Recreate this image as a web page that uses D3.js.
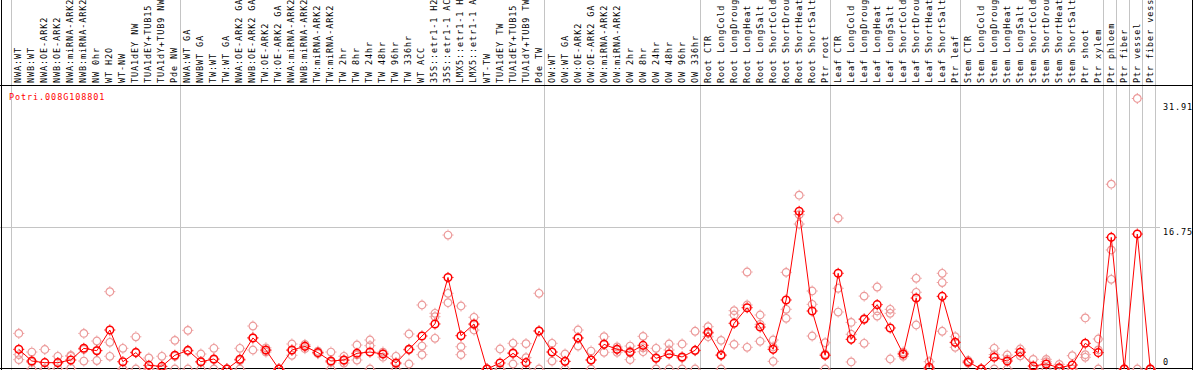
<!DOCTYPE html>
<html>
<head>
<meta charset="utf-8">
<script src="https://cdn.jsdelivr.net/npm/d3@7"></script>
<style>
  body { margin: 0; background: #fff; }
  svg { display: block; }
  text { font-family: "DejaVu Sans Mono", monospace; font-size: 8.5px; letter-spacing: 0.9px; }
</style>
</head>
<body>
<div id="chart"></div>
<script>
const geneName = 'Potri.008G108801';

// sizes of the sample groups, left to right
const groupSizes = [13, 28, 12, 10, 10, 11, 1, 1, 1, 1];

const sampleLabels = [
  'NWA:WT', 'NWB:WT', 'NWA:OE-ARK2', 'NWB:OE-ARK2', 'NWA:miRNA-ARK2', 'NWB:miRNA-ARK2', 'NW 0hr', 'WT H2O', 'WT-NW',
  'TUA1dEY NW', 'TUA1dEY+TUB15 NW', 'TUA1dY+TUB9 NW', 'Pde NW',
  'NWA:WT GA', 'NWBWT GA', 'TW:WT', 'TW:WT GA', 'NWA:OE-ARK2 GA', 'NWB:OE-ARK2 GA', 'TW:OE-ARK2', 'TW:OE-ARK2 GA',
  'NWA:miRNA-ARK2 GA', 'NWB:miRNA-ARK2 GA', 'TW:miRNA-ARK2', 'TW:miRNA-ARK2 GA', 'TW 2hr', 'TW 8hr', 'TW 24hr', 'TW 48hr',
  'TW 96hr', 'TW 336hr', 'WT ACC', '35S::etr1-1 H2O', '35S::etr1-1 ACC', 'LMX5::etr1-1 H2O', 'LMX5::etr1-1 ACC', 'WT-TW',
  'TUA1dEY TW', 'TUA1dEY+TUB15 TW', 'TUA1dY+TUB9 TW', 'Pde TW',
  'OW:WT', 'OW:WT GA', 'OW:OE-ARK2', 'OW:OE-ARK2 GA', 'OW:miRNA-ARK2', 'OW:miRNA-ARK2 GA', 'OW 2hr', 'OW 8hr', 'OW 24hr',
  'OW 48hr', 'OW 96hr', 'OW 336hr',
  'Root CTR', 'Root LongCold', 'Root LongDrought', 'Root LongHeat', 'Root LongSalt', 'Root ShortCold', 'Root ShortDrought',
  'Root ShortHeat', 'Root ShortSalt', 'Ptr root',
  'Leaf CTR', 'Leaf LongCold', 'Leaf LongDrought', 'Leaf LongHeat', 'Leaf LongSalt', 'Leaf ShortCold', 'Leaf ShortDrought',
  'Leaf ShortHeat', 'Leaf ShortSalt', 'Ptr leaf',
  'Stem CTR', 'Stem LongCold', 'Stem LongDrought', 'Stem LongHeat', 'Stem LongSalt', 'Stem ShortCold', 'Stem ShortDrought',
  'Stem ShortHeat', 'Stem ShortSalt', 'Ptr shoot', 'Ptr xylem',
  'Ptr phloem', 'Ptr fiber', 'Ptr vessel', 'Ptr fiber vessel'
];

const meanValues = [
  2.32, 0.94, 0.75, 0.75, 1.06, 2.44, 2.16, 4.6, 0.86, 1.93, 0.43, 0.31, 1.62,
  2.2, 0.86, 1.18, 0, 1.14, 3.66, 2.24, 0, 2.24, 2.67, 1.93, 0.94, 1.06, 1.85, 2.0, 1.77,
  0.71, 2.32, 3.89, 5.31, 10.8, 3.93, 5.31, 0, 0.71, 1.85, 0.75, 4.48,
  2.0, 0.9, 3.66, 1.06, 2.91, 2.32, 1.97, 2.79, 1.26, 1.77, 1.42, 2.2,
  4.33, 1.65, 5.39, 7.23, 4.95, 2.32, 8.14, 18.6, 6.84, 1.62,
  11.29, 3.5, 5.86, 7.59, 4.84, 1.77, 8.37, 0.2, 8.57, 3.15,
  0.83, 0, 1.38, 0.94, 1.97, 0.35, 0.59, 0.15, 0.47, 3.03, 1.93,
  15.53, 0, 15.92, 0
];

const replicateValues = [
  [4.2, 1.1, 1.7], [2.0, 0.8, 0], [2.3, 0, 0], [1.5, 0.7, 0.05], [1.5, 1.6, 0.1], [4.2, 0.94, 2.3],
  [3.3, 2.2, 1.0], [9.12, 3.15, 1.5], [2.44, 0, 0], [3.8, 2.0, 0], [1.3, 0, 0], [1.5, 0, 0], [3.38, 1.5, 0],
  [4.56, 2.1, 0], [1.77, 0.8, 0], [2.44, 1.1, 0], [0, 0, 0], [2.44, 1.0, 0], [5.07, 3.7, 2.24], [2.5, 2.2, 2.0],
  [0, 0, 0], [2.95, 2.2, 1.62], [2.9, 2.7, 2.4], [2.1, 1.9, 1.8], [2.0, 0.8, 0], [1.5, 1.0, 0.7],
  [2.83, 1.66, 1.06], [3.42, 2.75, 0], [2.0, 1.8, 1.4], [1.5, 0.6, 0], [4.13, 2.24, 0.59], [7.55, 2.71, 1.69],
  [6.57, 6.17, 3.62], [15.8, 8.93, 7.82], [7.43, 2.63, 1.69], [6.1, 5.23, 4.6], [0, 0, 0], [2.36, 0, 0],
  [3.03, 1.93, 0.59], [2.99, 1.34, 0], [8.93, 4.5, 0],
  [3.03, 2.0, 0.94], [1.77, 0.9, 0], [4.6, 3.66, 2.71], [2.12, 1.06, 0], [3.81, 2.95, 1.97], [2.6, 2.3, 1.97],
  [2.71, 2.1, 1.1], [3.85, 2.5, 2.04], [2.44, 1.34, 0], [2.95, 2.24, 0], [2.95, 1.3, 0], [4.45, 2.15, 0],
  [4.99, 4.2, 3.81], [3.38, 1.57, 0], [6.88, 6.37, 2.91], [11.44, 7.55, 2.56], [6.37, 5.27, 3.27],
  [3.42, 2.6, 0.9], [11.4, 7.04, 5.98], [20.5, 18.2, 17.1], [9.2, 7.63, 3.89], [3.1, 1.76, 0],
  [17.8, 9.52, 6.72], [5.5, 4.1, 0.83], [8.6, 5.95, 3.03], [9.67, 6.85, 6.25], [7.04, 6.57, 1.18],
  [2.0, 1.8, 1.5], [10.7, 9.05, 5.19], [0.86, 0, 0], [11.29, 10.2, 4.45], [3.81, 3.1, 2.56],
  [1.0, 0.8, 0.7], [0, 0, 0], [2.44, 1.7, 0], [1.65, 1.17, 0], [2.36, 2.0, 1.55], [1.14, 0, 0],
  [1.14, 0.86, 0], [0.55, 0, 0], [1.57, 0, 0], [6.02, 1.69, 1.38], [3.54, 2.25, 0],
  [21.8, 14.04, 10.58], [0, 0, 0], [31.91, 0], [0, 0, 0]
];

const yTickValues = [0, 16.75, 31.91];

(function(){
  const width = 1194, height = 370;
  const plotLeft = 10.5, plotRight = 1155, plotTop = 85, plotBottom = 369;
  const red = '#ff0000', pink = '#ec9a9a', grid = '#c4c4c4';

  const svg = d3.select('#chart').append('svg')
    .attr('width', width).attr('height', height);

  const x = d3.scaleBand()
    .domain(d3.range(sampleLabels.length))
    .range([plotLeft, plotRight])
    .paddingInner(0);
  const px = i => x(i) + 8.3;

  // top of the plot is twice the middle grid value
  const y = d3.scaleLinear()
    .domain([0, yTickValues[1] * 2])
    .range([plotBottom, plotTop]);

  // group separators
  const bounds = [0];
  groupSizes.forEach(n => bounds.push(bounds[bounds.length - 1] + n));
  svg.append('g').selectAll('line')
    .data(bounds)
    .join('line')
    .attr('x1', d => Math.round(d === sampleLabels.length ? plotRight : x(d)) + 0.5)
    .attr('x2', d => Math.round(d === sampleLabels.length ? plotRight : x(d)) + 0.5)
    .attr('y1', 0).attr('y2', height)
    .attr('stroke', grid);

  // middle grid line
  svg.append('line')
    .attr('x1', 0).attr('x2', 1160)
    .attr('y1', Math.round(y(yTickValues[1])) + 0.5)
    .attr('y2', Math.round(y(yTickValues[1])) + 0.5)
    .attr('stroke', grid);

  // frame
  svg.append('line').attr('x1', 0).attr('x2', 1193).attr('y1', plotTop + 0.5).attr('y2', plotTop + 0.5).attr('stroke', '#000');
  svg.append('line').attr('x1', 0).attr('x2', 1193).attr('y1', plotBottom - 0.5).attr('y2', plotBottom - 0.5).attr('stroke', '#000');
  svg.append('line').attr('x1', 1.5).attr('x2', 1.5).attr('y1', 0).attr('y2', height).attr('stroke', '#000');
  svg.append('line').attr('x1', 1192.5).attr('x2', 1192.5).attr('y1', 0).attr('y2', height).attr('stroke', '#000');

  // sample labels
  svg.append('g').selectAll('text')
    .data(sampleLabels)
    .join('text')
    .attr('transform', (d, i) => 'translate(' + (px(i) + 2.5) + ',' + (plotTop - 2) + ') rotate(-90)')
    .attr('fill', '#000')
    .text(d => d);

  // gene name
  svg.append('text')
    .attr('x', 9).attr('y', 100)
    .attr('fill', red)
    .text(geneName);

  // y labels
  const yOffsets = [-4, 8, 12];
  svg.append('g').selectAll('text')
    .data(yTickValues)
    .join('text')
    .attr('x', 1163)
    .attr('y', (d, i) => y(d) + yOffsets[i])
    .attr('fill', '#000')
    .text(d => d === 0 ? '0' : d.toFixed(2));

  function marker(g, stroke, sw){
    g.append('circle').attr('r', 3.8).attr('fill', 'none').attr('stroke', stroke).attr('stroke-width', sw);
    g.append('path').attr('d', 'M0,-5.5V-4.3M0,4.3V5.5M-5.5,0H-4.3M4.3,0H5.5')
      .attr('stroke', stroke).attr('stroke-width', 1);
  }

  // replicates
  const reps = [];
  replicateValues.forEach((arr, i) => arr.forEach(v => reps.push({i, v})));
  svg.append('g').selectAll('g')
    .data(reps)
    .join('g')
    .attr('transform', d => 'translate(' + px(d.i) + ',' + y(d.v) + ')')
    .each(function(){ marker(d3.select(this), pink, 1.2); });

  // mean line
  svg.append('path')
    .datum(meanValues)
    .attr('fill', 'none')
    .attr('stroke', red)
    .attr('stroke-width', 1)
    .attr('d', d3.line().x((d, i) => px(i)).y(d => y(d)));

  svg.append('g').selectAll('g')
    .data(meanValues)
    .join('g')
    .attr('transform', (d, i) => 'translate(' + px(i) + ',' + y(d) + ')')
    .each(function(){ marker(d3.select(this), red, 1.5); });
})();
</script>
</body>
</html>
